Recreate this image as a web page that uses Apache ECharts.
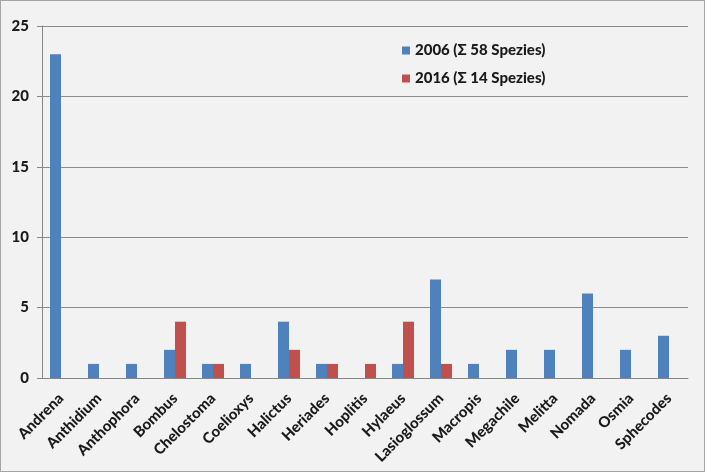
<!DOCTYPE html>
<html>
<head>
<meta charset="utf-8">
<script src="https://cdn.jsdelivr.net/npm/echarts@6/dist/echarts.min.js"></script>
<style>
  html, body { margin: 0; padding: 0; background: #fff; }
  #chart { width: 703px; height: 470px; border: 1px solid #a6a6a6; background: #f2f2f2; }
</style>
</head>
<body>
<div id="chart"></div>
<script>
const genera = ['Andrena', 'Anthidium', 'Anthophora', 'Bombus', 'Chelostoma', 'Coelioxys', 'Halictus',
  'Heriades', 'Hoplitis', 'Hylaeus', 'Lasioglossum', 'Macropis', 'Megachile', 'Melitta', 'Nomada', 'Osmia', 'Sphecodes'];
const counts2006 = [23, 1, 1, 2, 1, 1, 4, 1, 0, 1, 7, 1, 2, 2, 6, 2, 3];
const counts2016 = [0, 0, 0, 4, 1, 0, 2, 1, 1, 4, 1, 0, 0, 0, 0, 0, 0];
const seriesNames = ['2006 (Σ 58 Spezies)', '2016 (Σ 14 Spezies)'];

const myChart = echarts.init(document.getElementById('chart'), null, { renderer: 'canvas' });
const font = 'Lato, "Open Sans", sans-serif';

const option = {
  backgroundColor: '#f2f2f2',
  animation: false,
  textStyle: { fontFamily: font },
  legend: {
    orient: 'vertical',
    left: 396,
    top: 37,
    itemGap: 13,
    itemWidth: 8,
    itemHeight: 8,
    icon: 'rect',
    textStyle: { fontFamily: font, fontWeight: 900, fontSize: 15, color: '#1a1a1a' },
    data: seriesNames
  },
  grid: { left: 41, right: 16, top: 25, bottom: 93 },
  xAxis: {
    type: 'category',
    data: genera,
    axisLine: { lineStyle: { color: '#868686' } },
    axisTick: { length: 5, lineStyle: { color: '#868686' } },
    axisLabel: { rotate: 45, interval: 0, margin: 18, fontFamily: font, fontWeight: 900, fontSize: 15, color: '#1a1a1a' }
  },
  yAxis: {
    type: 'value',
    min: 0,
    max: 25,
    interval: 5,
    axisLine: { show: true, lineStyle: { color: '#868686' } },
    axisTick: { show: true, length: 5, lineStyle: { color: '#868686' } },
    axisLabel: { margin: 13, fontFamily: font, fontWeight: 900, fontSize: 15, color: '#1a1a1a' },
    splitLine: { lineStyle: { color: '#8c8c8c' } }
  },
  series: [
    {
      name: seriesNames[0],
      type: 'bar',
      data: counts2006,
      barWidth: 11,
      barGap: '0%',
      itemStyle: { color: '#4f81bd' }
    },
    {
      name: seriesNames[1],
      type: 'bar',
      data: counts2016,
      barWidth: 11,
      barGap: '0%',
      itemStyle: { color: '#c0504d' }
    }
  ]
};

myChart.setOption(option);
window.addEventListener('resize', myChart.resize);
</script>
</body>
</html>
